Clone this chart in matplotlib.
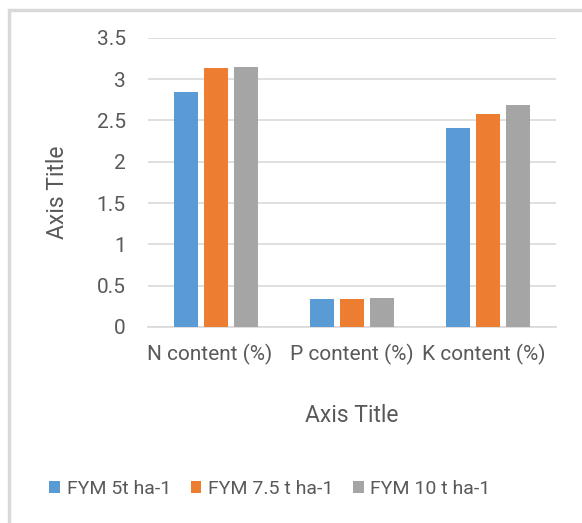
import matplotlib.pyplot as plt
import numpy as np
from matplotlib.patches import Rectangle
from matplotlib import font_manager
from matplotlib.transforms import ScaledTranslation

categories = ["N content (%)", "P content (%)", "K content (%)"]
series_names = ["FYM 5t ha-1", "FYM 7.5 t ha-1", "FYM 10 t ha-1"]
fym_5 = [2.84, 0.34, 2.41]
fym_7_5 = [3.13, 0.34, 2.58]
fym_10 = [3.15, 0.35, 2.68]
yticks = [0, 0.5, 1, 1.5, 2, 2.5, 3, 3.5]
colors = ["#5b9bd5", "#ed7d31", "#a5a5a5"]

names = {f.name for f in font_manager.fontManager.ttflist}
narrow = "Liberation Sans Narrow" if "Liberation Sans Narrow" in names else "Roboto"
plt.rcParams["font.family"] = ["Roboto", "DejaVu Sans"]
txt = "#595959"

fig = plt.figure(figsize=(5.82, 5.23), dpi=100)
ax = fig.add_axes([148 / 582, 1 - 327 / 523, 408 / 582, 289.3 / 523])

x = np.arange(len(categories))
pitch = 0.2206
width = 0.174
for i, vals in enumerate([fym_5, fym_7_5, fym_10]):
    ax.bar(x + (i - 1) * pitch, vals, width, color=colors[i], label=series_names[i],
           zorder=3)

ax.set_xlim(-0.5, 2.5)
ax.set_ylim(0, 3.5)
ax.set_yticks(yticks)
ax.set_yticklabels([f"{v:g}" for v in yticks])
ax.grid(axis="y", color="#d9d9d9", linewidth=1.2, zorder=0)
for s in ["top", "right", "left"]:
    ax.spines[s].set_visible(False)
ax.spines["bottom"].set_color("#d9d9d9")
ax.spines["bottom"].set_linewidth(1.2)
ax.tick_params(axis="y", length=0, pad=16, labelsize=15, labelcolor=txt)
ax.set_xticks(x)
ax.set_xticklabels(categories, fontsize=15, color=txt, family=[narrow, "DejaVu Sans"])
ax.tick_params(axis="x", length=0, pad=12)
# Excel squeezes the outer labels slightly inward
for lab, dx in zip(ax.get_xticklabels(), [-6, 0, -4]):
    lab.set_transform(lab.get_transform() + ScaledTranslation(dx / 100, 0, fig.dpi_scale_trans))

fig.text(352 / 582, 1 - 416 / 523, "Axis Title", ha="center", va="center",
         fontsize=16.5, color=txt, family=[narrow, "DejaVu Sans"])
fig.text(58 / 582, 1 - 192 / 523, "Axis Title", ha="center", va="center",
         rotation=90, fontsize=16.5, color=txt, family=[narrow, "DejaVu Sans"])

leg = fig.legend(loc="center", bbox_to_anchor=(270 / 582, 1 - 489 / 523), ncol=3,
                 frameon=False, handlelength=0.55, handleheight=0.55,
                 handletextpad=0.35, columnspacing=1.0,
                 prop={"family": [narrow, "DejaVu Sans"], "size": 14})
for t in leg.get_texts():
    t.set_color(txt)

fig.patches.append(Rectangle((9 / 582, -0.1), 1.2, 1 - 10 / 523 + 0.1,
                             transform=fig.transFigure, fill=False,
                             edgecolor="#d9d9d9", linewidth=2.5))

fig.savefig("out.png", dpi=100)
